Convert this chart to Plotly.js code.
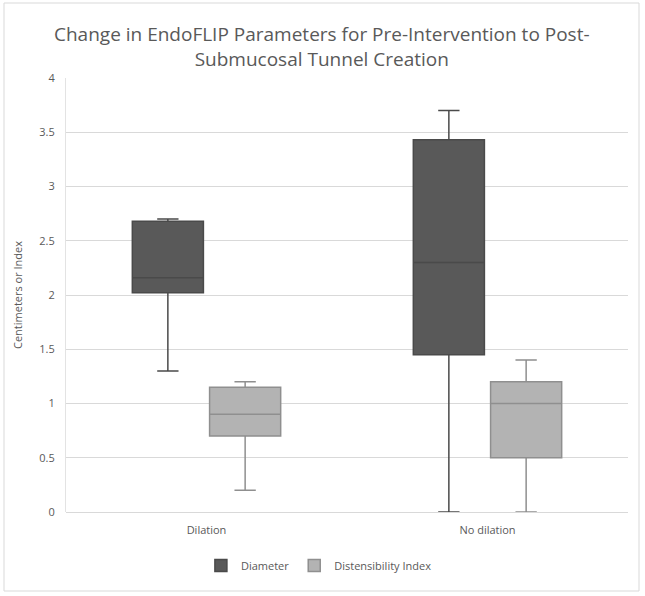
<!DOCTYPE html>
<html>
<head>
<meta charset="utf-8">
<script src="https://cdn.plot.ly/plotly-3.0.1.min.js"></script>
<style>html,body{margin:0;padding:0;background:#fff;}#chart{width:645px;height:596px;}</style>
</head>
<body>
<div id="chart"></div>
<script>
const categories = ["Dilation", "No dilation"];
const seriesNames = ["Diameter", "Distensibility Index"];
const chartTitle = "Change in EndoFLIP Parameters for Pre-Intervention to Post-<br>Submucosal Tunnel Creation";
// [lower whisker, Q1, median, Q3, upper whisker] per category
const diameterLow = [1.30, 0.00];
const diameterQ1 = [2.02, 1.45];
const diameterMedian = [2.16, 2.30];
const diameterQ3 = [2.68, 3.43];
const diameterHigh = [2.70, 3.70];
const distLow = [0.20, 0.00];
const distQ1 = [0.70, 0.50];
const distMedian = [0.90, 1.00];
const distQ3 = [1.15, 1.20];
const distHigh = [1.20, 1.40];
const yTicks = [0, 0.5, 1, 1.5, 2, 2.5, 3, 3.5, 4];

const font = "Open Sans, Liberation Sans, sans-serif";
const traces = [
  {
    type: "box", name: seriesNames[0], x: categories,
    q1: diameterQ1, median: diameterMedian, q3: diameterQ3,
    lowerfence: diameterLow, upperfence: diameterHigh,
    fillcolor: "#595959", line: {color: "#4a4a4a", width: 1.5},
    whiskerwidth: 0.3, hoverinfo: "skip"
  },
  {
    type: "box", name: seriesNames[1], x: categories,
    q1: distQ1, median: distMedian, q3: distQ3,
    lowerfence: distLow, upperfence: distHigh,
    fillcolor: "#b3b3b3", line: {color: "#8f8f8f", width: 1.5},
    whiskerwidth: 0.3, hoverinfo: "skip"
  }
];

const layout = {
  width: 645, height: 596,
  margin: {l: 66, r: 17, t: 78, b: 84},
  paper_bgcolor: "#ffffff", plot_bgcolor: "#ffffff",
  font: {family: font, color: "#595959", size: 11},
  boxmode: "group", boxgap: 0.45, boxgroupgap: 0.08,
  xaxis: {
    type: "category", showgrid: false, showline: false, zeroline: false,
    ticks: "", ticklabelstandoff: 10, tickfont: {size: 11, color: "#595959", family: font}
  },
  yaxis: {
    range: [0, 4], tickvals: yTicks, ticktext: yTicks.map(String),
    showgrid: true, gridcolor: "#d9d9d9", gridwidth: 1,
    zeroline: true, zerolinecolor: "#d9d9d9", zerolinewidth: 1,
    showline: true, linecolor: "#e3e3e3", linewidth: 1,
    ticks: "", ticklen: 0, ticklabelstandoff: 8,
    tickfont: {size: 11, color: "#595959", family: font},
    title: {text: "Centimeters or Index", font: {size: 11, color: "#595959", family: font}, standoff: 14}
  },
  legend: {
    orientation: "h", x: 0.45, xanchor: "center", y: -0.09, yanchor: "top",
    font: {size: 11, color: "#595959", family: font}, itemwidth: 30
  },
  showlegend: true,
  annotations: [{
    text: chartTitle, xref: "paper", yref: "paper", x: 0.455, y: (512 - 46) / 434,
    xanchor: "center", yanchor: "middle", showarrow: false,
    font: {family: font, size: 19, color: "#595959"}
  }],
  shapes: [{
    type: "rect", xref: "paper", yref: "paper",
    x0: -62 / 562, x1: 1 + 11 / 562, y0: -79 / 434, y1: 1 + 75 / 434,
    line: {color: "#d9d9d9", width: 1}, fillcolor: "rgba(0,0,0,0)", layer: "below"
  }]
};

Plotly.newPlot("chart", traces, layout, {displayModeBar: false, staticPlot: true});
</script>
</body>
</html>
